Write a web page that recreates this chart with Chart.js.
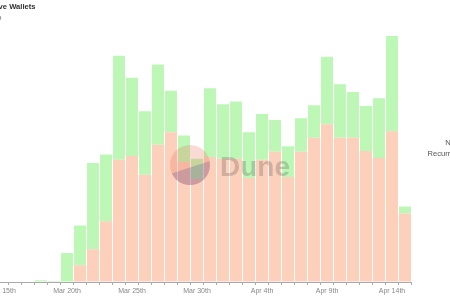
<!DOCTYPE html>
<html>
<head>
<meta charset="utf-8">
<script src="https://cdn.jsdelivr.net/npm/chart.js@4.4.0/dist/chart.umd.min.js"></script>
<style>
  html, body { margin: 0; padding: 0; background: #fff; overflow: hidden; }
  #wrap { position: relative; width: 450px; height: 300px; overflow: hidden; }
  #myChart { position: absolute; left: -36px; top: 0; }
</style>
</head>
<body>
<div id="wrap"><canvas id="myChart" width="486" height="300"></canvas></div>
<script>
var days = ['Mar 15th','Mar 16th','Mar 17th','Mar 18th','Mar 19th','Mar 20th','Mar 21st','Mar 22nd',
  'Mar 23rd','Mar 24th','Mar 25th','Mar 26th','Mar 27th','Mar 28th','Mar 29th','Mar 30th','Mar 31st',
  'Apr 1st','Apr 2nd','Apr 3rd','Apr 4th','Apr 5th','Apr 6th','Apr 7th','Apr 8th','Apr 9th','Apr 10th',
  'Apr 11th','Apr 12th','Apr 13th','Apr 14th','Apr 15th'];

var recurringWallets = [0, 0, 0, 0, 0, 10, 360, 700, 1300, 2620, 2700, 2300, 2940, 3210, 2570, 2210,
  2680, 2640, 2640, 2230, 2620, 2790, 2250, 2790, 3090, 3380, 3090, 3090, 2810, 2660, 3230, 1470];

var newWallets = [0, 0, 0, 35, 20, 610, 850, 1850, 1430, 2230, 1680, 1360, 1720, 890, 570, 430,
  1470, 1170, 1230, 980, 980, 680, 660, 720, 700, 1450, 1150, 980, 960, 1280, 2040, 150];

var FONT = 'Liberation Sans, Arial, sans-serif';

// right hand legend, text only, right aligned
var sideLegend = {
  id: 'sideLegend',
  afterDraw: function(chart) {
    var c = chart.ctx, a = chart.chartArea;
    var sets = chart.data.datasets.slice().reverse();
    c.save();
    c.font = '7.6px ' + FONT;
    c.fillStyle = '#555';
    c.textAlign = 'right';
    c.textBaseline = 'middle';
    sets.forEach(function(ds, i) {
      c.fillText(ds.label, a.right + 49, a.top + 113 + i * 11);
    });
    c.restore();
  }
};

// faint Dune watermark
var watermark = {
  id: 'watermark',
  afterDatasetsDraw: function(chart) {
    var c = chart.ctx, a = chart.chartArea;
    var cx = a.left + 194.5, cy = a.bottom - 117, r = 20;
    c.save();
    c.beginPath();
    c.arc(cx, cy, r, 0, Math.PI * 2);
    c.fillStyle = 'rgba(235,100,80,0.24)';
    c.fill();
    c.clip();
    c.beginPath();
    c.moveTo(cx - r, cy + 9);
    c.lineTo(cx + r, cy - 4);
    c.lineTo(cx + r, cy + r);
    c.lineTo(cx - r, cy + r);
    c.closePath();
    c.fillStyle = 'rgba(50,60,150,0.22)';
    c.fill();
    c.restore();
    c.save();
    c.font = 'bold 28px ' + FONT;
    c.fillStyle = 'rgba(90,80,80,0.27)';
    c.textBaseline = 'alphabetic';
    c.fillText('Dune', a.left + 224.5, a.bottom - 106);
    c.restore();
  }
};

var ctx = document.getElementById('myChart').getContext('2d');
var myChart = new Chart(ctx, {
  type: 'bar',
  data: {
    labels: days,
    datasets: [{
        label: 'Recurring',
        data: recurringWallets,
        backgroundColor: '#fcd0ba',
        borderWidth: 0
      }, {
        label: 'New',
        data: newWallets,
        backgroundColor: '#bdf7b5',
        borderWidth: 0
      }
    ]
  },
  options: {
    responsive: false,
    animation: false,
    datasets: {
      bar: { categoryPercentage: 1, barPercentage: 0.92 }
    },
    layout: {
      padding: { left: 0, right: 38.5, top: 0, bottom: 2.6 }
    },
    plugins: {
      legend: { display: false },
      tooltip: { enabled: false },
      title: {
        display: true,
        text: 'Daily Active Wallets',
        align: 'start',
        color: '#333',
        padding: { top: 2, bottom: 2 },
        font: { family: FONT, size: 7.6, weight: 'bold' }
      },
      subtitle: {
        display: true,
        text: 'User group',
        align: 'start',
        color: '#666',
        padding: { top: 0, bottom: 7.8 },
        font: { family: FONT, size: 7.6 }
      }
    },
    scales: {
      x: {
        stacked: true,
        border: { color: '#aaa', width: 1 },
        grid: { drawOnChartArea: false, drawTicks: true, tickLength: 3, color: '#aaa' },
        ticks: {
          autoSkip: false,
          maxRotation: 0,
          padding: 2,
          color: '#888',
          font: { family: FONT, size: 7 },
          callback: function(v, i) { return i % 5 === 0 ? this.getLabelForValue(v) : ''; }
        }
      },
      y: {
        stacked: true,
        min: 0,
        max: 5400,
        border: { display: false },
        grid: {
          drawTicks: false,
          color: function(c) {
            var v = c.tick.value;
            return (v > 0 && v % 1000 === 0) ? '#ebebeb' : 'rgba(0,0,0,0)';
          }
        },
        ticks: { stepSize: 1000, display: false },
        afterFit: function(scale) { scale.width = 31.5; }
      }
    }
  },
  plugins: [watermark, sideLegend]
});
</script>
</body>
</html>
